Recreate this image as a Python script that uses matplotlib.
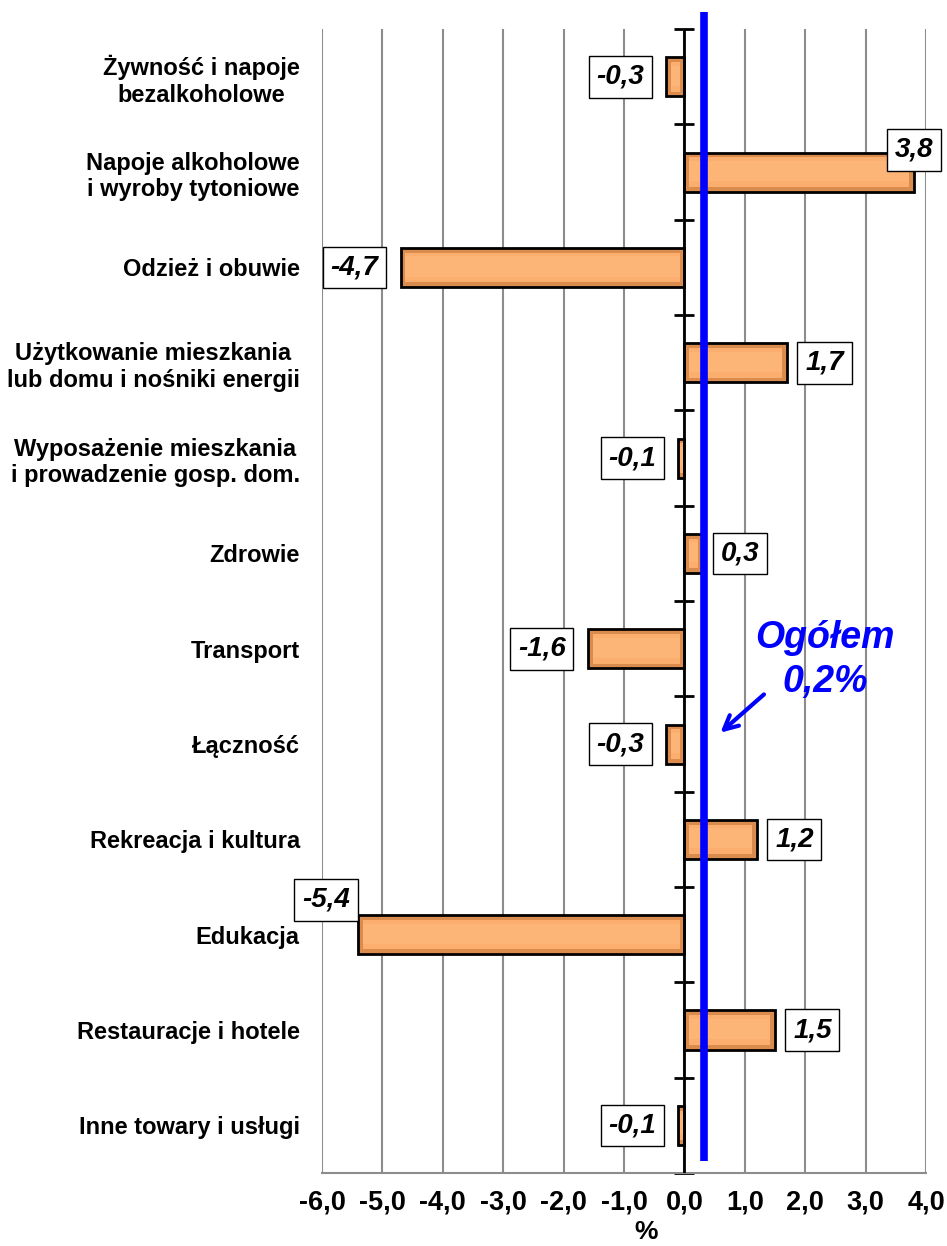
import numpy as np
import matplotlib
matplotlib.use("Agg")
import matplotlib.pyplot as plt
from matplotlib.ticker import FixedLocator

plt.rcParams['font.family'] = ['Liberation Sans', 'DejaVu Sans']

categories = [
    "Żywność i napoje\nbezalkoholowe",
    "Napoje alkoholowe\ni wyroby tytoniowe",
    "Odzież i obuwie",
    "Użytkowanie mieszkania\nlub domu i nośniki energii",
    "Wyposażenie mieszkania\ni prowadzenie gosp. dom.",
    "Zdrowie",
    "Transport",
    "Łączność",
    "Rekreacja i kultura",
    "Edukacja",
    "Restauracje i hotele",
    "Inne towary i usługi",
]
values = [-0.3, 3.8, -4.7, 1.7, -0.1, 0.3, -1.6, -0.3, 1.2, -5.4, 1.5, -0.1]
ogolem_value = 0.2
ogolem_line = 0.33   # where the blue line sits in the picture
x_ticks = np.arange(-6, 5, 1)

fig = plt.figure(figsize=(9.47, 12.46), dpi=100)
ax = fig.add_axes([0.340, 0.0586, 0.638, 0.918])

y = np.arange(len(categories))
h = 0.41

# bars with a light bevel look
vals = np.array(values)
ax.barh(y, vals, height=h, color='#D98C4E', edgecolor='black', linewidth=2, zorder=3)
inset_x = np.minimum(0.08, np.abs(vals) * 0.25)
inner = np.sign(vals) * (np.abs(vals) - 2 * inset_x)
ax.barh(y, inner, left=np.sign(vals) * inset_x, height=h - 0.1,
        color='#FBAE6E', linewidth=0, zorder=3)
ax.barh(y - 0.01, inner, left=np.sign(vals) * inset_x, height=h - 0.2,
        color='#FDB577', linewidth=0, zorder=3)
ax.axvline(0, color='black', linewidth=2, zorder=4)

# value labels
special = {1: (0, 16, 'center'), 9: (-6, 25, 'right')}
for i, v in enumerate(values):
    txt = f"{v:.1f}".replace('.', ',')
    if i in special:
        dx, dy, ha = special[i]
    elif v < 0:
        dx, dy, ha = -16, 0, 'right'
    else:
        dx, dy, ha = 13, 0, 'left'
    ax.annotate(txt, xy=(v, i), xytext=(dx, dy), textcoords='offset points',
                ha=ha, va='center', fontsize=20, fontweight='bold', style='italic',
                bbox=dict(boxstyle='square,pad=0.28', fc='white', ec='black', lw=1),
                zorder=6, annotation_clip=False)

ax.set_xlim(-6, 4)
ax.set_ylim(len(categories) - 0.5, -0.5)

ax.set_xticks(x_ticks)
ax.set_xticklabels([f"{t:.1f}".replace('.', ',') for t in x_ticks],
                   fontsize=19.5, fontweight='bold')
ax.tick_params(axis='x', length=0, pad=12)
ax.xaxis.grid(True, color='#8c8c8c', linewidth=1.5, zorder=0)
ax.set_axisbelow(True)

ax.set_yticks(y)
ax.set_yticklabels(categories, fontsize=17, fontweight='bold', multialignment='center')
ax.tick_params(axis='y', length=0, pad=16)

for s in ['top', 'right', 'left']:
    ax.spines[s].set_visible(False)
ax.spines['bottom'].set_color('#8c8c8c')
ax.spines['bottom'].set_linewidth(1.5)

# tick marks between categories on the zero axis
sec = ax.secondary_yaxis(0.6)
sec.set_yticks([])
sec.yaxis.set_minor_locator(FixedLocator(np.arange(-0.5, len(categories), 1)))
sec.tick_params(which='minor', length=14, width=2, direction='inout', color='black')

# overall line
ax.plot([ogolem_line, ogolem_line], [-0.68, 11.37], color='#0000FF', linewidth=5.5,
        zorder=5, clip_on=False, solid_capstyle='butt')
ax.text(2.33, 6.12, "Ogółem\n" + f"{ogolem_value:.1f}".replace('.', ',') + "%",
        ha='center', va='center', fontsize=27, fontweight='bold', style='italic',
        color='#0000FF', linespacing=1.3, zorder=6)
ax.annotate('', xy=(0.56, 6.9), xytext=(1.35, 6.46),
            arrowprops=dict(arrowstyle='->', color='#0000FF', lw=3, mutation_scale=25),
            zorder=6)

fig.text(646 / 947, 1 - 1232 / 1246, "%", ha='center', va='center',
         fontsize=19, fontweight='bold')

fig.savefig("out.png", dpi=100)
